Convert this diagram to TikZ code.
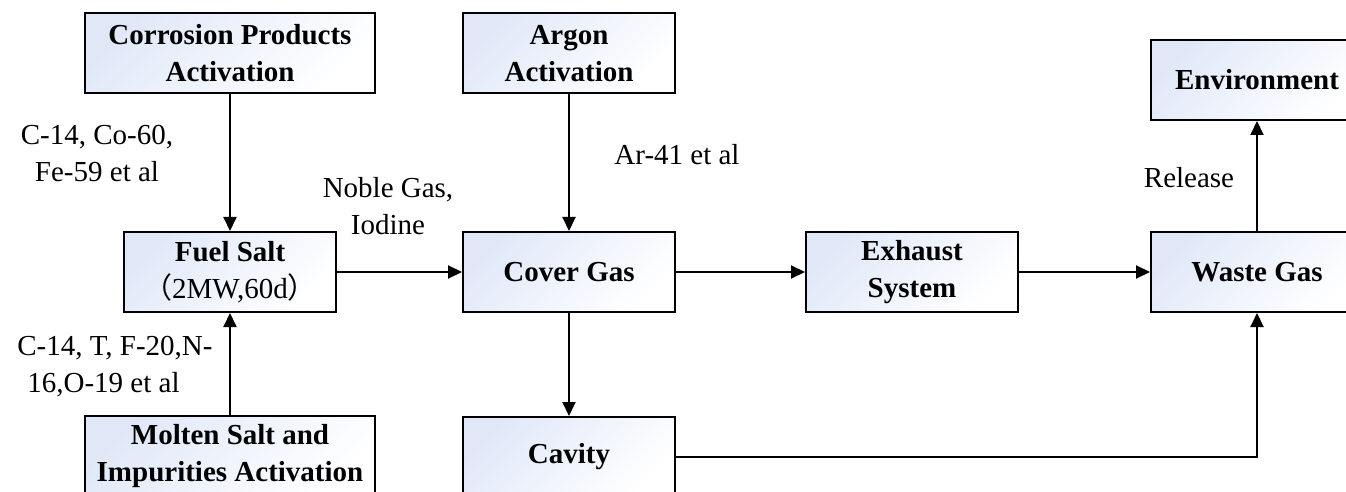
\documentclass[tikz,border=0pt]{standalone}
\usepackage{fontspec}
\setmainfont{Liberation Serif}
\newfontfamily\cjk{Noto Sans CJK SC}
\usetikzlibrary{arrows.meta}
\definecolor{boxtint}{RGB}{224,232,248}
\tikzset{
  box/.style={draw=black, line width=1pt, left color=boxtint, right color=white, shading angle=45,
    minimum width=#1, minimum height=40pt, inner sep=0pt, align=center,
    font=\fontsize{14.5}{18.5}\selectfont\bfseries},
  box/.default=106pt,
  lbl/.style={align=center, inner sep=0pt, font=\fontsize{14.5}{18.5}\selectfont},
  arr/.style={line width=1pt, -{Triangle[length=7pt,width=6.5pt]}},
}
\begin{document}
\begin{tikzpicture}[x=0.5pt,y=-0.5pt]
\clip (0,0) rectangle (1346,492);
\node[box=145pt] (corr) at (230,53) {Corrosion Products\\Activation};
\node[box] (argon) at (569,53.5) {Argon\\Activation};
\node[box] (env) at (1257,80) {Environment};
\node[box] (fuel) at (230,272) {Fuel Salt\\{\mdseries{\cjk （}2MW,60d{\cjk ）}}};
\node[box] (cover) at (569,272) {Cover Gas};
\node[box] (exh) at (912,272) {Exhaust\\System};
\node[box] (waste) at (1257,272) {Waste Gas};
\node[box=145pt] (molten) at (230,456) {Molten Salt and\\Impurities Activation};
\node[box] (cavity) at (569,457) {Cavity};

\draw[arr] (corr) -- (fuel);
\draw[arr] (molten) -- (fuel);
\draw[arr] (fuel) -- (cover);
\draw[arr] (argon) -- (cover);
\draw[arr] (cover) -- (exh);
\draw[arr] (exh) -- (waste);
\draw[arr] (cover) -- (cavity);
\draw[arr] (cavity.east) -| (waste.south);
\draw[arr] (waste) -- (env);

\node[lbl] (l1) at (97,153) {C-14, Co-60,\\Fe-59 et al};
\node[lbl] (l2) at (388,206) {Noble Gas,\\Iodine};
\node[lbl] (l3) at (677,155) {Ar-41 et al};
\node[lbl] (l4) at (1189,178) {Release};
\node[lbl, align=left] (l5) at (115,367) {C-14, T, F-20,N-\\\hspace{5pt}16,O-19 et al};
\end{tikzpicture}
\end{document}
